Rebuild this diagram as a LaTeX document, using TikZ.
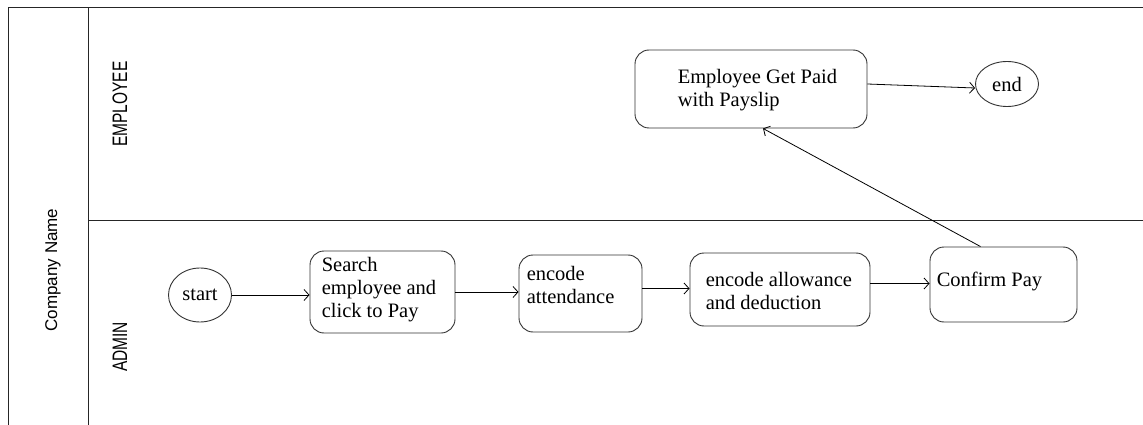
\documentclass[tikz,border=0pt]{standalone}
\usepackage{fontspec}
\setmainfont{Liberation Serif}
\newfontfamily\lanefont{Liberation Sans}
\usetikzlibrary{shapes.geometric,arrows.meta,calc}

\begin{document}
\begin{tikzpicture}[x=1pt,y=-1pt,
  frame/.style={line width=1pt, draw=black!85},
  actbox/.style={draw=black!80, line width=0.9pt, rounded corners=14pt, inner sep=0pt},
  term/.style={draw=black!80, line width=0.9pt, ellipse, inner sep=0pt,
               font=\fontsize{20.5}{23}\selectfont},
  steptext/.style={font=\fontsize{20.5}{23}\selectfont, align=left, inner sep=0pt, anchor=west},
  flow/.style={line width=0.8pt, -{Straight Barb[length=5pt,width=11pt]}},
  lane/.style={rotate=90, inner sep=0pt, font=\lanefont\fontsize{15.5}{18}\selectfont}
]
\useasboundingbox[fill=white] (0,0) rectangle (1143,425);

% swimlane frame
\coordinate (tl) at (8,8);
\coordinate (tr) at (1143,8);
\coordinate (bl) at (8,425);
\coordinate (mt) at (88,8);
\coordinate (mb) at (88,425);
\coordinate (dl) at (88,220);
\coordinate (dr) at (1143,220);
\draw[frame] (bl) -- (tl) -- (tr);
\draw[frame] (mt) -- (mb);
\draw[frame] (dl) -- (dr);

\node[rotate=90, inner sep=0pt, font=\lanefont\fontsize{17}{20}\selectfont] (pool) at (53,270) {Company Name};
\node[lane] (laneemp) at (120,104) {\scalebox{1}[1.35]{EMPLOYEE}};
\node[lane] (laneadm) at (120,347) {\scalebox{1}[1.35]{ADMIN}};

% admin lane
\node[term, minimum width=63, minimum height=54] (start) at (200,295) {start};

\node[actbox, minimum width=145, minimum height=82] (search) at (382.5,292) {};
\node[steptext] (searchtxt) at ($(search.west)+(12,-2)$) {Search\\employee and\\click to Pay};

\node[actbox, minimum width=123, minimum height=77] (att) at (580.5,293.5) {};
\node[steptext] (atttxt) at ($(att.west)+(8,-9)$) {encode\\attendance};

\node[actbox, minimum width=180, minimum height=73] (allow) at (780,289.5) {};
\node[steptext] (allowtxt) at ($(allow.west)+(16,1.5)$) {encode allowance\\and deduction};

\node[actbox, minimum width=147, minimum height=75] (confirm) at (1003.5,284.5) {};
\node[steptext] (confirmtxt) at ($(confirm.west)+(7,-3.5)$) {Confirm Pay};

% employee lane
\node[actbox, minimum width=232, minimum height=78] (pay) at (751,89) {};
\node[steptext] (paytxt) at ($(pay.west)+(43,1)$) {Employee Get Paid\\with Payslip};

\node[term, minimum width=63, minimum height=45] (end) at (1007,84) {end};

% control flow
\draw[flow] (start.east) -- (start.east -| search.west);
\draw[flow] (search.east) -- (search.east -| att.west);
\draw[flow] ($(allow.west -| att.east)+(0,-1)$) -- ($(allow.west)+(0,-1)$);
\draw[flow] ($(confirm.west -| allow.east)+(0,-1)$) -- ($(confirm.west)+(0,-1)$);
\draw[flow] ($(confirm.north)+(-23,0)$) -- ($(pay.south)+(12,0)$);
\draw[flow] ($(pay.east)+(0,-5)$) -- ($(end.west)+(0,4)$);
\end{tikzpicture}
\end{document}
